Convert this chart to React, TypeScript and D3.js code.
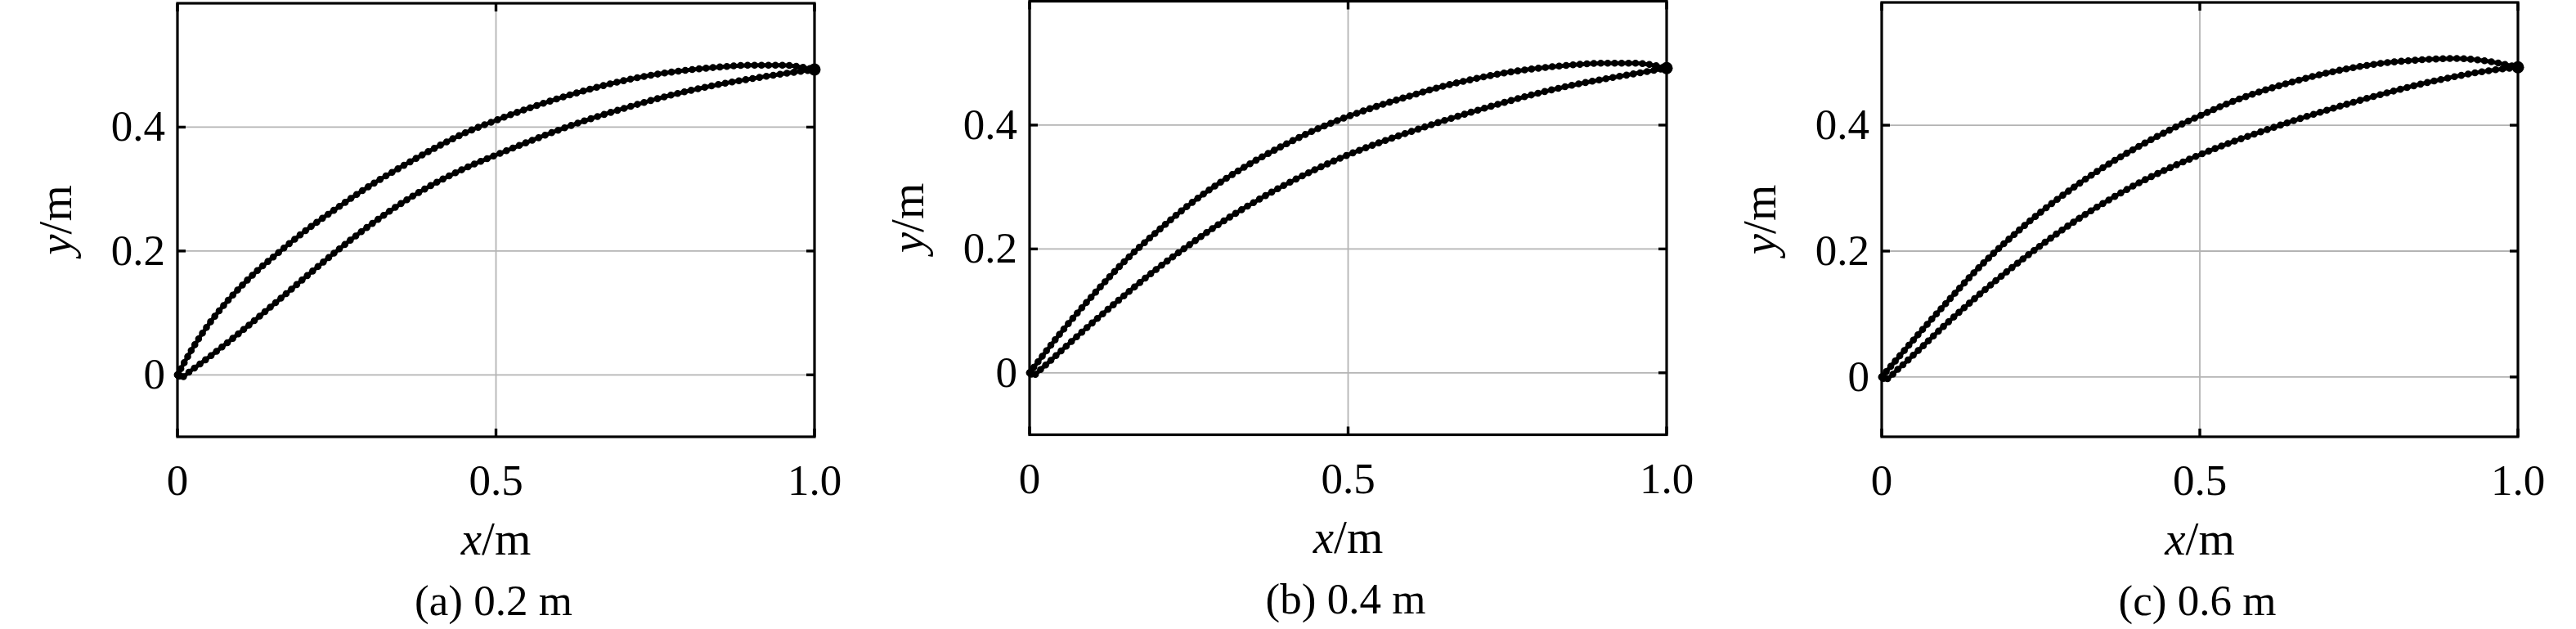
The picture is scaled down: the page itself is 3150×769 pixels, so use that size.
import React from 'react';
import * as d3 from 'd3';

type Pt = [number, number];

// ---- data ----
const xTicks = [0, 0.5, 1.0];
const xTickLabels = ['0', '0.5', '1.0'];
const yTicks = [0, 0.2, 0.4];
const yTickLabels = ['0', '0.2', '0.4'];
const captions = ['(a) 0.2 m', '(b) 0.4 m', '(c) 0.6 m'];

const upperA: Pt[] = [
  [0, 0], [0.025, 0.045], [0.05, 0.083], [0.075, 0.115], [0.1, 0.143], [0.125, 0.168],
  [0.15, 0.19], [0.2, 0.232], [0.25, 0.269], [0.3, 0.304], [0.35, 0.335], [0.4, 0.364],
  [0.45, 0.39], [0.5, 0.411], [0.55, 0.43], [0.6, 0.447], [0.65, 0.462], [0.7, 0.475],
  [0.75, 0.485], [0.8, 0.492], [0.85, 0.497], [0.9, 0.5], [0.95, 0.5], [1, 0.493],
];
const lowerA: Pt[] = [
  [0, 0], [0.006, -0.004], [0.02, 0.006], [0.05, 0.029], [0.1, 0.07], [0.15, 0.113],
  [0.2, 0.157], [0.25, 0.2], [0.3, 0.24], [0.35, 0.276], [0.4, 0.307], [0.45, 0.333],
  [0.5, 0.355], [0.55, 0.376], [0.6, 0.396], [0.65, 0.414], [0.7, 0.43], [0.75, 0.445],
  [0.8, 0.458], [0.85, 0.469], [0.9, 0.478], [0.95, 0.486], [1, 0.493],
];
const upperB: Pt[] = [
  [0, 0], [0.05, 0.066], [0.1, 0.126], [0.15, 0.181], [0.2, 0.228], [0.25, 0.271],
  [0.3, 0.308], [0.35, 0.34], [0.4, 0.368], [0.45, 0.393], [0.5, 0.414], [0.55, 0.432],
  [0.6, 0.448], [0.65, 0.463], [0.7, 0.475], [0.75, 0.485], [0.8, 0.492], [0.85, 0.497],
  [0.9, 0.5], [0.95, 0.5], [1, 0.492],
];
const lowerB: Pt[] = [
  [0, 0], [0.005, -0.004], [0.02, 0.008], [0.05, 0.036], [0.1, 0.082], [0.15, 0.126],
  [0.2, 0.168], [0.25, 0.206], [0.3, 0.242], [0.35, 0.274], [0.4, 0.303], [0.45, 0.329],
  [0.5, 0.352], [0.55, 0.372], [0.6, 0.39], [0.65, 0.407], [0.7, 0.423], [0.75, 0.438],
  [0.8, 0.452], [0.85, 0.464], [0.9, 0.474], [0.95, 0.483], [1, 0.492],
];
const upperC: Pt[] = [
  [0, 0], [0.05, 0.059], [0.1, 0.116], [0.15, 0.171], [0.2, 0.219], [0.25, 0.262],
  [0.3, 0.3], [0.35, 0.334], [0.4, 0.364], [0.45, 0.391], [0.5, 0.415], [0.55, 0.437],
  [0.6, 0.455], [0.65, 0.47], [0.7, 0.483], [0.75, 0.493], [0.8, 0.5], [0.85, 0.504],
  [0.9, 0.506], [0.95, 0.502], [1, 0.492],
];
const lowerC: Pt[] = [
  [0, 0], [0.005, -0.004], [0.025, 0.012], [0.05, 0.035], [0.1, 0.083], [0.15, 0.128],
  [0.2, 0.17], [0.25, 0.209], [0.3, 0.245], [0.35, 0.277], [0.4, 0.306], [0.45, 0.331],
  [0.5, 0.353], [0.55, 0.373], [0.6, 0.391], [0.65, 0.408], [0.7, 0.424], [0.75, 0.439],
  [0.8, 0.453], [0.85, 0.466], [0.9, 0.477], [0.95, 0.486], [1, 0.492],
];

const series: Pt[][][] = [
  [upperA, lowerA],
  [upperB, lowerB],
  [upperC, lowerC],
];

// ---- layout (pixels) ----
const W = 3150;
const H = 769;
const layouts = [
  { L: 217, R: 996, T: 4, B: 534, yMin: -0.1, yMax: 0.6 },
  { L: 1259, R: 2038, T: 1.5, B: 531.5, yMin: -0.1, yMax: 0.6 },
  { L: 2301, R: 3079, T: 3, B: 534, yMin: -0.095, yMax: 0.595 },
];

const FONT = "'Liberation Serif', 'Times New Roman', serif";
const GRID = '#b4b4b4';
const TICK_LEN = 10;

function Panel({ idx }: { idx: number }) {
  const lay = layouts[idx];
  const x = d3.scaleLinear().domain([0, 1]).range([lay.L, lay.R]);
  const y = d3.scaleLinear().domain([lay.yMin, lay.yMax]).range([lay.B, lay.T]);
  const line = d3
    .line<Pt>()
    .x((d) => x(d[0]))
    .y((d) => y(d[1]))
    .curve(d3.curveMonotoneX);
  const curves = series[idx];
  const cx = (lay.L + lay.R) / 2;
  const cy = (lay.T + lay.B) / 2;
  const endPt = curves[0][curves[0].length - 1];
  const startPt = curves[0][0];

  return (
    <g>
      {/* grid */}
      {xTicks.map((t, i) => (
        <line key={'gx' + i} x1={x(t)} x2={x(t)} y1={lay.T} y2={lay.B} stroke={GRID} strokeWidth={1.8} />
      ))}
      {yTicks.map((t, i) => (
        <line key={'gy' + i} x1={lay.L} x2={lay.R} y1={y(t)} y2={y(t)} stroke={GRID} strokeWidth={1.8} />
      ))}
      {/* curves */}
      {curves.map((c, i) => (
        <g key={'c' + i}>
          <path d={line(c) || ''} fill="none" stroke="#000" strokeWidth={5} strokeLinejoin="round" strokeLinecap="round" />
          <path d={line(c) || ''} fill="none" stroke="#000" strokeWidth={8.6} strokeDasharray="0 8.5" strokeLinecap="round" />
        </g>
      ))}
      <circle cx={x(endPt[0])} cy={y(endPt[1])} r={7.5} fill="#000" />
      <circle cx={x(startPt[0]) + 2} cy={y(startPt[1]) + 1} r={5} fill="#000" />
      {/* frame */}
      <rect x={lay.L} y={lay.T} width={lay.R - lay.L} height={lay.B - lay.T} fill="none" stroke="#000" strokeWidth={3.2} />
      {/* ticks */}
      {xTicks.map((t, i) => (
        <g key={'tx' + i}>
          <line x1={x(t)} x2={x(t)} y1={lay.B} y2={lay.B - TICK_LEN} stroke="#000" strokeWidth={3.4} />
          <line x1={x(t)} x2={x(t)} y1={lay.T} y2={lay.T + TICK_LEN} stroke="#000" strokeWidth={3.4} />
        </g>
      ))}
      {yTicks.map((t, i) => (
        <g key={'ty' + i}>
          <line x1={lay.L} x2={lay.L + TICK_LEN} y1={y(t)} y2={y(t)} stroke="#000" strokeWidth={3.4} />
          <line x1={lay.R} x2={lay.R - TICK_LEN} y1={y(t)} y2={y(t)} stroke="#000" strokeWidth={3.4} />
        </g>
      ))}
      {/* tick labels */}
      {xTicks.map((t, i) => (
        <text key={'lx' + i} x={x(t)} y={lay.B + 71} textAnchor="middle" fontSize={53} fontFamily={FONT} fill="#000">
          {xTickLabels[i]}
        </text>
      ))}
      {yTicks.map((t, i) => (
        <text key={'ly' + i} x={lay.L - 15} y={y(t) + 17} textAnchor="end" fontSize={53} fontFamily={FONT} fill="#000">
          {yTickLabels[i]}
        </text>
      ))}
      {/* axis labels */}
      <text x={cx} y={lay.B + 144} textAnchor="middle" fontSize={57} fontFamily={FONT} fill="#000">
        <tspan fontStyle="italic">x</tspan>/m
      </text>
      <text
        transform={`translate(${lay.L - 130},${cy}) rotate(-90)`}
        textAnchor="middle"
        fontSize={57}
        fontFamily={FONT}
        fill="#000"
      >
        <tspan fontStyle="italic">y</tspan>/m
      </text>
      {/* caption */}
      <text x={cx - 3} y={lay.B + 218} textAnchor="middle" fontSize={53} fontFamily={FONT} fill="#000">
        {captions[idx]}
      </text>
    </g>
  );
}

export default function App() {
  return (
    <svg
      width={W}
      height={H}
      viewBox={`0 0 ${W} ${H}`}
      style={{ position: 'absolute', left: 0, top: 0, display: 'block', background: '#fff' }}
    >
      <rect x={0} y={0} width={W} height={H} fill="#fff" />
      {layouts.map((_, i) => (
        <Panel key={i} idx={i} />
      ))}
    </svg>
  );
}
